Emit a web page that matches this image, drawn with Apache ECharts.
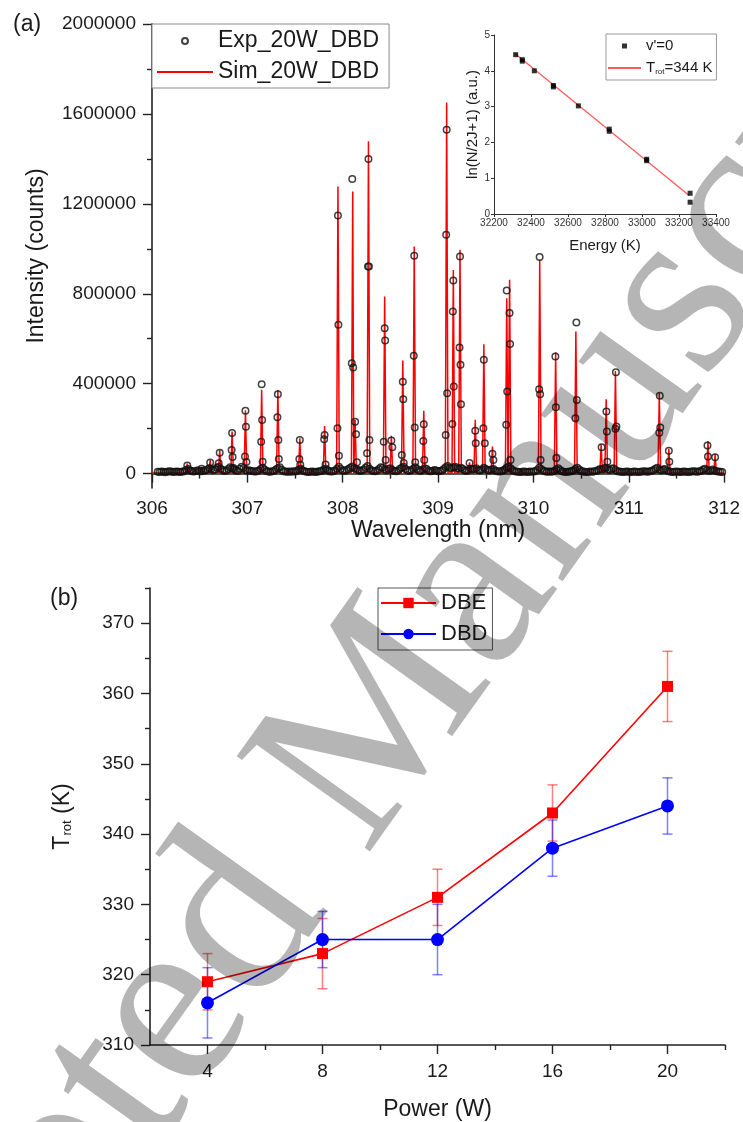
<!DOCTYPE html>
<html>
<head>
<meta charset="utf-8">
<script src="https://cdn.jsdelivr.net/npm/echarts@6/dist/echarts.min.js"></script>
<style>
  html, body { margin: 0; padding: 0; background: #fff; }
  #chart { width: 743px; height: 1122px; }
</style>
</head>
<body>
<div id="chart"></div>
<script>
// ---------- (a) OH(A-X) emission spectrum, 20 W DBD ----------
// Simulated rotational lines: centre wavelength (nm) and peak intensity (counts)
const simPeakWl = [306.37, 306.45, 306.52, 306.61, 306.71, 306.84, 306.98, 307.15, 307.32, 307.43,
  307.55, 307.68, 307.81, 307.95, 308.105, 308.13, 308.27, 308.44, 308.51, 308.63,
  308.75, 308.85, 308.95, 309.09, 309.16, 309.23, 309.33, 309.39, 309.48, 309.57,
  309.72, 309.75, 309.87, 310.066, 310.233, 310.33, 310.445, 310.58, 310.71, 310.763,
  310.86, 311.0, 311.15, 311.32, 311.42, 311.55, 311.7, 311.83, 311.905];
const simPeakInt = [45000, 18000, 30000, 60000, 105000, 187000, 282000, 373000, 372000, 20000,
  157000, 18000, 212000, 1277000, 1255000, 239000, 1478000, 788000, 168000, 503000,
  1010000, 280000, 25000, 1651000, 906000, 996000, 50000, 239000, 575000, 120000,
  780000, 862000, 20000, 951000, 540000, 20000, 632000, 18000, 130000, 331000,
  456000, 15000, 15000, 358000, 110000, 15000, 15000, 145000, 87000];
const simFloor = 3000;

// Measured points on the lines (wavelength nm, intensity counts)
const expPeakWl = [306.37, 306.52, 306.61, 306.71, 306.70,
  306.84, 306.835, 306.845, 306.855,
  306.98, 306.985, 306.975, 306.99,
  307.15, 307.155, 307.145, 307.16,
  307.32, 307.315, 307.325, 307.33,
  307.55, 307.545, 307.555,
  307.81, 307.805, 307.82,
  307.95, 307.955, 307.945, 307.96,
  308.10, 308.095, 308.11, 308.13, 308.14, 308.15,
  308.27, 308.265, 308.275, 308.28, 308.255,
  308.44, 308.445, 308.43, 308.45,
  308.51, 308.52,
  308.63, 308.635, 308.62, 308.64,
  308.75, 308.745, 308.755, 308.76,
  308.85, 308.845, 308.855,
  309.09, 309.085, 309.095, 309.08,
  309.16, 309.155, 309.165, 309.15,
  309.23, 309.225, 309.235, 309.24,
  309.33, 309.39, 309.395,
  309.48, 309.475, 309.49,
  309.57, 309.58,
  309.72, 309.715, 309.725,
  309.75, 309.755, 309.76,
  310.065, 310.06, 310.07, 310.075,
  310.23, 310.235, 310.24,
  310.45, 310.455, 310.44,
  310.715, 310.765, 310.77, 310.775,
  310.865, 310.86, 310.87,
  311.325, 311.32, 311.33,
  311.42, 311.425,
  311.825, 311.83, 311.905];
const expPeakInt = [36000, 22000, 49000, 93000, 46000,
  181000, 105000, 74000, 25000,
  280000, 209000, 76000, 52000,
  398000, 239000, 142000, 53000,
  353000, 251000, 150000, 65000,
  150000, 65000, 39000,
  172000, 153000, 40000,
  1148000, 662000, 202000, 79000,
  1310000, 491000, 472000, 231000, 175000, 51000,
  1400000, 921000, 921000, 150000, 91000,
  647000, 592000, 142000, 61000,
  147000, 117000,
  409000, 331000, 83000, 47000,
  969000, 524000, 205000, 50000,
  220000, 145000, 61000,
  1530000, 1062000, 358000, 172000,
  859000, 721000, 387000, 221000,
  966000, 561000, 484000, 309000,
  47000, 191000, 135000,
  506000, 202000, 135000,
  88000, 60000,
  815000, 217000, 365000,
  714000, 577000, 60000,
  963000, 375000, 353000, 60000,
  521000, 295000, 70000,
  672000, 328000, 246000,
  117000, 276000, 187000, 53000,
  451000, 200000, 210000,
  346000, 182000, 205000,
  102000, 53000,
  125000, 76000, 73000];

// Measured background between the lines: detector pixels from 306.06 nm every 0.02 nm,
// intensities in thousands of counts (one row = 0.5 nm)
const expBaseStart = 306.06;
const expBaseStep = 0.02;
const expBaseK = [
  8, 7, 9, 8, 6, 8, 10, 9, 7, 8, 9, 8, 7, 9, 11, 16, 20, 14, 10, 9, 12, 15, 11, 10, 13,
  14, 18, 24, 20, 15, 18, 26, 30, 22, 16, 12, 14, 20, 28, 24, 18, 14, 12, 22, 30, 25, 16, 13, 15, 12,
  10, 9, 11, 14, 20, 26, 18, 12, 9, 8, 10, 12, 18, 24, 28, 17, 11, 9, 8, 9, 8, 10, 9, 12, 18,
  22, 14, 10, 8, 7, 8, 9, 8, 7, 9, 10, 12, 18, 22, 16, 11, 9, 10, 14, 22, 30, 20, 14, 12, 16,
  20, 26, 32, 24, 20, 16, 12, 14, 18, 26, 34, 22, 15, 12, 10, 14, 20, 28, 26, 18, 14, 20, 24, 16, 12,
  11, 14, 22, 26, 30, 20, 14, 12, 16, 22, 28, 20, 14, 12, 18, 24, 20, 13, 10, 12, 16, 14, 10, 12, 14,
  20, 28, 34, 26, 24, 28, 30, 24, 22, 26, 20, 14, 12, 16, 22, 18, 20, 24, 16, 14, 18, 26, 20, 16, 14,
  18, 20, 14, 10, 9, 11, 14, 18, 26, 30, 24, 16, 11, 9, 8, 7, 8, 9, 8, 7, 9, 8, 9, 10, 16,
  26, 20, 14, 10, 8, 9, 8, 9, 12, 18, 24, 16, 10, 8, 7, 8, 9, 10, 14, 20, 26, 18, 12, 9, 8,
  7, 8, 9, 8, 10, 12, 16, 20, 18, 24, 26, 18, 16, 22, 24, 16, 11, 9, 8, 7, 8, 9, 8, 7, 8,
  9, 8, 7, 8, 9, 10, 9, 8, 10, 12, 16, 22, 26, 18, 14, 18, 20, 14, 10, 8, 7, 8, 9, 8, 7,
  8, 9, 8, 7, 8, 9, 10, 9, 8, 10, 12, 18, 22, 16, 12, 14, 18, 14, 10, 9, 8, 7];

const specTicks = [0, 400000, 800000, 1200000, 1600000, 2000000];
const specMinorTicks = [200000, 600000, 1000000, 1400000, 1800000];

// ---------- inset: Boltzmann plot ----------
const boltzE = [32317, 32353, 32353, 32418, 32521, 32521, 32656, 32823, 32823, 33025, 33025, 33260, 33260];
const boltzLn = [4.45, 4.31, 4.27, 4.00, 3.59, 3.55, 3.02, 2.37, 2.31, 1.53, 1.49, 0.58, 0.33];
const fitE = [32313, 33255];
const fitLn = [4.48, 0.52];

// ---------- (b) rotational temperature vs power ----------
const powerW = [4, 8, 12, 16, 20];
const dbeT = [319, 323, 331, 343, 361];
const dbeErr = [4, 5, 4, 4, 5];
const dbdT = [316, 325, 325, 338, 344];
const dbdErr = [5, 4, 5, 4, 4];
const powerTicks = [4, 8, 12, 16, 20];
const powerMinorTicks = [6, 10, 14, 18, 22];
const tempTicks = [310, 320, 330, 340, 350, 360, 370];
const tempMinorTicks = [315, 325, 335, 345, 355, 365, 375];

// ---------- build series data ----------
const SPIKE_HW = 0.014; // half base width of a drawn line profile, nm
const simLine = [[306.0, simFloor], [312.0, simFloor]];
simPeakWl.forEach((c, i) => {
  simLine.push([c - SPIKE_HW, simFloor], [c, simPeakInt[i]], [c + SPIKE_HW, simFloor]);
});
simLine.sort((a, b) => a[0] - b[0]);

const expData = expPeakWl.map((w, i) => [w, expPeakInt[i]]);
expBaseK.forEach((v, i) => expData.push([+(expBaseStart + i * expBaseStep).toFixed(3), v * 1000]));

const FONT = 'Liberation Sans, Arial, Helvetica, sans-serif';
const SERIF = 'Liberation Serif, Times New Roman, serif';
const INK = '#1a1a1a';
const AXIS = { lineStyle: { color: '#222', width: 1.6 } };
const TICK = { color: '#222', width: 1.4 };
const plain = v => String(v);

function errorBars(ys, errs, color) {
  return {
    type: 'custom', xAxisIndex: 2, yAxisIndex: 3, z: 3, silent: true,
    data: powerW.map((x, i) => [x, ys[i] - errs[i], ys[i] + errs[i]]),
    encode: { x: 0, y: [1, 2] },
    renderItem(params, api) {
      const lo = api.coord([api.value(0), api.value(1)]);
      const hi = api.coord([api.value(0), api.value(2)]);
      const w = 5;
      const st = { stroke: color, lineWidth: 1.5 };
      return {
        type: 'group', children: [
          { type: 'line', shape: { x1: lo[0], y1: lo[1], x2: hi[0], y2: hi[1] }, style: st },
          { type: 'line', shape: { x1: lo[0] - w, y1: lo[1], x2: lo[0] + w, y2: lo[1] }, style: st },
          { type: 'line', shape: { x1: hi[0] - w, y1: hi[1], x2: hi[0] + w, y2: hi[1] }, style: st }
        ]
      };
    }
  };
}

const chart = echarts.init(document.getElementById('chart'), null, { renderer: 'canvas' });
chart.setOption({
  animation: false,
  backgroundColor: '#fff',
  textStyle: { fontFamily: FONT, color: INK },
  grid: [
    { left: 152, top: 24, width: 575, height: 464 },
    { left: 494, top: 35, width: 222, height: 179 },
    { left: 150, top: 588, width: 575, height: 463 }
  ],
  xAxis: [
    {
      gridIndex: 0, type: 'value', position: 'bottom', min: 306, max: 312, interval: 1,
      axisLine: AXIS, splitLine: { show: false },
      axisTick: { inside: false, length: 9, lineStyle: TICK },
      minorTick: { show: true, splitNumber: 2, length: 5, lineStyle: TICK },
      axisLabel: { fontSize: 19, color: INK, margin: 11, fontFamily: FONT, formatter: plain },
      name: 'Wavelength (nm)', nameLocation: 'middle', nameGap: 31,
      nameTextStyle: { fontSize: 23, color: INK, fontFamily: FONT }
    },
    {
      gridIndex: 1, type: 'value', position: 'bottom', min: 32200, max: 33400, interval: 200,
      axisLine: { lineStyle: { color: '#333', width: 1 } }, splitLine: { show: false },
      axisTick: { inside: false, length: 3, lineStyle: { color: '#333' } },
      axisLabel: { fontSize: 10, color: '#333', margin: 4, fontFamily: FONT, formatter: plain },
      name: 'Energy (K)', nameLocation: 'middle', nameGap: 24,
      nameTextStyle: { fontSize: 15, color: INK, fontFamily: FONT }
    },
    {
      gridIndex: 2, type: 'value', position: 'bottom', min: 2, max: 22,
      axisLine: AXIS, splitLine: { show: false },
      axisTick: { customValues: powerTicks, inside: false, length: 9, lineStyle: TICK },
      axisLabel: { customValues: powerTicks, fontSize: 19, color: INK, margin: 17, fontFamily: FONT, formatter: plain },
      name: 'Power (W)', nameLocation: 'middle', nameGap: 53,
      nameTextStyle: { fontSize: 23, color: INK, fontFamily: FONT }
    },
    {
      gridIndex: 2, type: 'value', position: 'bottom', min: 2, max: 22,
      axisLine: { show: false }, splitLine: { show: false }, axisLabel: { show: false },
      axisTick: { customValues: powerMinorTicks, inside: false, length: 5, lineStyle: TICK }
    }
  ],
  yAxis: [
    {
      gridIndex: 0, type: 'value', position: 'left', min: -64000, max: 2000000,
      axisLine: AXIS, splitLine: { show: false },
      axisTick: { customValues: specTicks, inside: false, length: 9, lineStyle: TICK },
      axisLabel: { customValues: specTicks, fontSize: 19, color: INK, margin: 16, fontFamily: FONT, formatter: plain },
      name: 'Intensity (counts)', nameLocation: 'middle', nameGap: 104,
      nameTextStyle: { fontSize: 23, color: INK, fontFamily: FONT }
    },
    {
      gridIndex: 0, type: 'value', position: 'left', min: -64000, max: 2000000,
      axisLine: { show: false }, splitLine: { show: false }, axisLabel: { show: false },
      axisTick: { customValues: specMinorTicks, inside: false, length: 5, lineStyle: TICK }
    },
    {
      gridIndex: 1, type: 'value', position: 'left', min: 0, max: 5, interval: 1,
      axisLine: { lineStyle: { color: '#333', width: 1 } }, splitLine: { show: false },
      axisTick: { inside: false, length: 3, lineStyle: { color: '#333' } },
      axisLabel: { fontSize: 10, color: '#333', margin: 4, fontFamily: FONT, formatter: plain },
      name: 'ln(N/2J+1) (a.u.)', nameLocation: 'middle', nameGap: 14,
      nameTextStyle: { fontSize: 15, color: INK, fontFamily: FONT }
    },
    {
      gridIndex: 2, type: 'value', position: 'left', min: 310, max: 375,
      axisLine: AXIS, splitLine: { show: false },
      axisTick: { customValues: tempTicks, inside: false, length: 9, lineStyle: TICK },
      axisLabel: { customValues: tempTicks, fontSize: 19, color: INK, margin: 16, fontFamily: FONT, formatter: plain },
      name: '{t|T}{s|rot}{t| (K)}', nameLocation: 'middle', nameGap: 76,
      nameTextStyle: {
        fontFamily: FONT, color: INK,
        rich: {
          t: { fontSize: 23, fontFamily: FONT, color: INK },
          s: { fontSize: 13, fontFamily: FONT, color: INK, padding: [10, 0, 0, 0] }
        }
      }
    },
    {
      gridIndex: 2, type: 'value', position: 'left', min: 310, max: 375,
      axisLine: { show: false }, splitLine: { show: false }, axisLabel: { show: false },
      axisTick: { customValues: tempMinorTicks, inside: false, length: 5, lineStyle: TICK }
    }
  ],
  legend: [
    {
      data: ['Exp_20W_DBD', { name: 'Sim_20W_DBD', itemStyle: { color: 'rgba(0,0,0,0)', borderWidth: 0 } }],
      orient: 'vertical', left: 152, top: 24, width: 236,
      padding: [4, 10, 3, 4], itemGap: 5, itemWidth: 56, itemHeight: 6,
      borderColor: '#8a8a8a', borderWidth: 1, backgroundColor: '#fff',
      textStyle: { fontSize: 23, lineHeight: 26, color: INK, fontFamily: FONT },
      selectedMode: false
    },
    {
      data: [{ name: "v'=0", icon: 'path://M0,0h10v10h-10z' },
             { name: 'Trot', itemStyle: { color: 'rgba(0,0,0,0)', borderWidth: 0 } }],
      orient: 'vertical', left: 606, top: 34,
      padding: [3, 4, 3, 1], itemGap: 4, itemWidth: 33, itemHeight: 5,
      borderColor: '#9a9a9a', borderWidth: 1, backgroundColor: '#fff',
      formatter: n => n === 'Trot' ? '{t|T}{s|rot}{t|=344 K}' : n,
      textStyle: {
        fontSize: 15, lineHeight: 18, color: INK, fontFamily: FONT,
        rich: {
          t: { fontSize: 15, fontFamily: FONT, color: INK },
          s: { fontSize: 8, fontFamily: FONT, color: INK, padding: [7, 0, 0, 0] }
        }
      },
      selectedMode: false
    },
    {
      data: ['DBE', 'DBD'],
      orient: 'vertical', left: 378, top: 588,
      padding: [2, 5, 3, 2], itemGap: 5, itemWidth: 55, itemHeight: 13,
      borderColor: '#555', borderWidth: 1, backgroundColor: '#fff',
      textStyle: { fontSize: 22, lineHeight: 26, color: INK, fontFamily: FONT },
      selectedMode: false
    }
  ],
  series: [
    {
      name: 'Sim_20W_DBD', type: 'line', xAxisIndex: 0, yAxisIndex: 0,
      data: simLine, symbol: 'none', sampling: 'none', z: 2,
      lineStyle: { color: '#ff0000', width: 1.5 }, itemStyle: { color: '#ff0000' }
    },
    {
      name: 'Exp_20W_DBD', type: 'scatter', xAxisIndex: 0, yAxisIndex: 0,
      data: expData, symbol: 'circle', symbolSize: 6.5, z: 3,
      itemStyle: { color: 'rgba(0,0,0,0)', borderColor: '#111', borderWidth: 1.5 }
    },
    {
      name: "v'=0", type: 'scatter', xAxisIndex: 1, yAxisIndex: 2,
      data: boltzE.map((e, i) => [e, boltzLn[i]]), symbol: 'rect', symbolSize: 5, z: 6,
      itemStyle: { color: '#000' }
    },
    {
      name: 'Trot', type: 'line', xAxisIndex: 1, yAxisIndex: 2,
      data: fitE.map((e, i) => [e, fitLn[i]]), symbol: 'none', z: 5,
      lineStyle: { color: '#ff5a5a', width: 1.3 }, itemStyle: { color: '#ff5a5a' }
    },
    errorBars(dbeT, dbeErr, 'rgba(255,0,0,0.5)'),
    errorBars(dbdT, dbdErr, 'rgba(0,0,255,0.5)'),
    {
      name: 'DBE', type: 'line', xAxisIndex: 2, yAxisIndex: 3,
      data: powerW.map((p, i) => [p, dbeT[i]]), symbol: 'rect', symbolSize: 11, z: 4,
      lineStyle: { color: '#ff0000', width: 1.6 }, itemStyle: { color: '#ff0000' }
    },
    {
      name: 'DBD', type: 'line', xAxisIndex: 2, yAxisIndex: 3,
      data: powerW.map((p, i) => [p, dbdT[i]]), symbol: 'circle', symbolSize: 13, z: 4,
      lineStyle: { color: '#0000ff', width: 1.6 }, itemStyle: { color: '#0000ff' }
    }
  ],
  graphic: [
    { type: 'text', left: 13, top: 13, style: { text: '(a)', fontSize: 23, fontFamily: FONT, fill: INK } },
    { type: 'text', left: 50, top: 587, style: { text: '(b)', fontSize: 23, fontFamily: FONT, fill: INK } },
    {
      type: 'text', x: 276, y: 870, rotation: 0.951, z: 100, silent: true,
      style: { text: 'Accepted', align: 'right', verticalAlign: 'middle', fontSize: 250,
        fontFamily: SERIF, fill: 'rgba(0,0,0,0.29)' }
    },
    {
      type: 'text', x: 276, y: 870, rotation: 0.951, z: 100, silent: true,
      style: { text: ' Manuscript', align: 'left', verticalAlign: 'middle', fontSize: 250,
        fontFamily: SERIF, fill: 'rgba(0,0,0,0.29)' }
    }
  ]
});
</script>
</body>
</html>
